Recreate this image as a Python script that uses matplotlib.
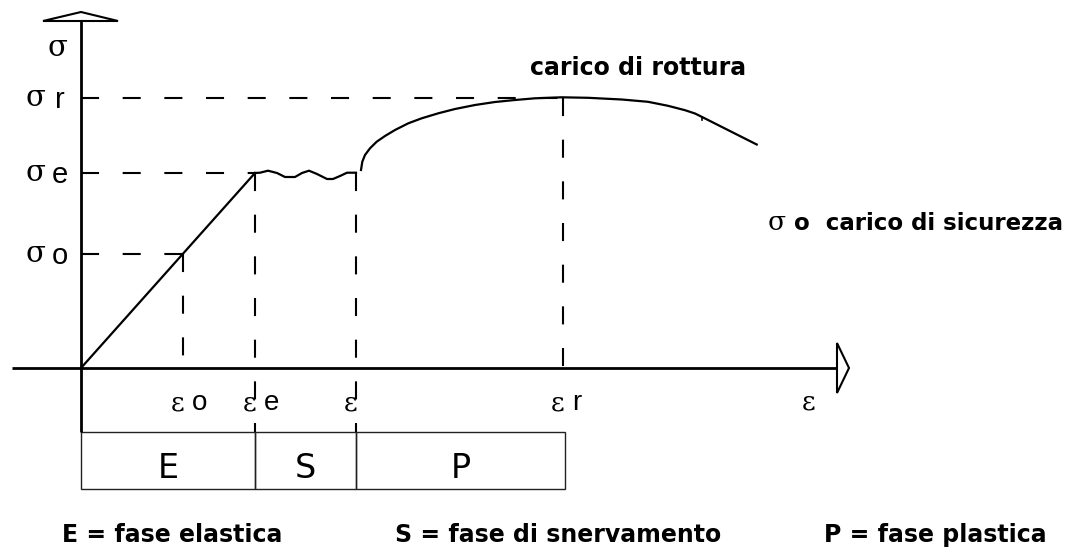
import matplotlib
matplotlib.use('Agg')
import matplotlib.pyplot as plt
from matplotlib.patches import Polygon, Rectangle

plt.rcParams['lines.scale_dashes'] = False

eps_o = 102
eps_e = 174
eps_s = 275
eps_r = 482
eps_fine = 756
sig_o = 114
sig_e = 195
sig_r = 270

# tratto elastico
el_x = [0, eps_e]
el_y = [0, sig_e]
# snervamento (tratto ondulato)
sn_x = [174, 179, 187, 196, 204, 214, 221, 228, 236, 246, 252, 259, 266, 275]
sn_y = [195, 195.3, 197.3, 195, 191, 191, 195, 197.3, 194, 189, 189, 192, 195.3, 195.3]
# incrudimento e strizione
pl_x = [280, 281.3, 284, 289, 295.7, 304, 314, 327.3, 340.7, 357.3, 374, 394, 414, 434, 454, 480.7,
        507, 540.7, 567, 587, 604, 614, 620.7, 675.7]
pl_y = [198, 206.3, 213, 219.7, 226.3, 232, 238, 244.7, 249.7, 254.7, 259, 263, 266, 268, 269.7, 270.7,
        270.2, 268.5, 266.2, 262.2, 257.8, 254.5, 251.2, 223.5]

fasi = ['E', 'S', 'P']
fasi_lim = [0, eps_e, eps_s, eps_r + 2]
legenda = ['E = fase elastica', 'S = fase di snervamento', 'P = fase plastica']
legenda_x = [91, 477, 854]

fig = plt.figure(figsize=(10.75, 5.48), dpi=100)
ax = fig.add_axes([0, 0, 1, 1])
ax.set_xlim(-81, 994)
ax.set_ylim(-180, 368)
ax.axis('off')

k = 'black'
comic = ['DejaVu Sans']
greco = 'DejaVu Serif'

# assi
ax.plot([-69, eps_fine], [0, 0], color=k, lw=2.0, solid_capstyle='butt')
ax.plot([0, 0], [-64, 347], color=k, lw=2.0, solid_capstyle='butt')
ax.add_patch(Polygon([[-38, 347], [37, 347], [0, 356]], closed=True, fc='white', ec=k, lw=1.5))
ax.add_patch(Polygon([[eps_fine, 25], [eps_fine, -25], [eps_fine + 12, 0]], closed=True,
                     fc='white', ec=k, lw=1.5))

# curva
ax.plot(el_x, el_y, color=k, lw=1.6)
ax.plot(sn_x, sn_y, color=k, lw=1.6)
ax.plot(pl_x, pl_y, color=k, lw=1.6, solid_joinstyle='round')
ax.plot([pl_x[-2], pl_x[-2]], [pl_y[-2], pl_y[-2] - 3.5], color=k, lw=1.2)

# linee tratteggiate
dash = (0, (13, 17))
for s, e in [(sig_r, eps_r), (sig_e, eps_e), (sig_o, eps_o)]:
    ax.plot([0, e], [s, s], color=k, lw=1.5, linestyle=dash)
ax.plot([eps_o, eps_o], [sig_o, -10], color=k, lw=1.5, linestyle=dash)
ax.plot([eps_e, eps_e], [sig_e, -64], color=k, lw=1.5, linestyle=dash)
ax.plot([eps_s, eps_s], [sig_e, -64], color=k, lw=1.5, linestyle=dash)
ax.plot([eps_r, eps_r], [sig_r, -7], color=k, lw=1.5, linestyle=dash)

# etichette asse sigma
ax.text(-24, 320, 'σ', family=greco, fontsize=21, ha='center', va='center')
for s, l in [(sig_r, 'r'), (sig_e, 'e'), (sig_o, 'o')]:
    ax.text(-46, s, 'σ', family=greco, fontsize=21, ha='center', va='center')
    ax.text(-21, s - 2, l, family='Liberation Sans', fontsize=21, ha='center', va='center')

# etichette asse epsilon
for e, l, dl in [(eps_o, 'o', 17), (eps_e, 'e', 17), (eps_s, '', 0), (eps_r, 'r', 14)]:
    ax.text(e - 5, -35, 'ε', family=greco, fontsize=19, ha='center', va='center')
    if l:
        ax.text(e + dl, -35, l, family='Liberation Sans', fontsize=20, ha='center', va='center')
ax.text(728, -34, 'ε', family=greco, fontsize=19, ha='center', va='center')

ax.text(557, 300, 'carico di rottura', family=comic, fontweight='bold', fontsize=17,
        ha='center', va='center')
ax.text(696, 145, 'σ', family=greco, fontsize=19, ha='center', va='center')
ax.text(847, 145, 'o  carico di sicurezza', family=comic, fontweight='bold', fontsize=16.5,
        ha='center', va='center')

# riquadro delle fasi
for i, f in enumerate(fasi):
    x0, x1 = fasi_lim[i], fasi_lim[i + 1]
    ax.add_patch(Rectangle((x0, -121), x1 - x0, 57, fill=False, ec='#222222', lw=1.0))
    ax.text((x0 + x1) / 2, -100, f, family=comic, fontsize=24, ha='center', va='center')

for t, x in zip(legenda, legenda_x):
    ax.text(x, -167, t, family=comic, fontweight='bold', fontsize=17, ha='center', va='center')

fig.savefig('out.png', dpi=100)
